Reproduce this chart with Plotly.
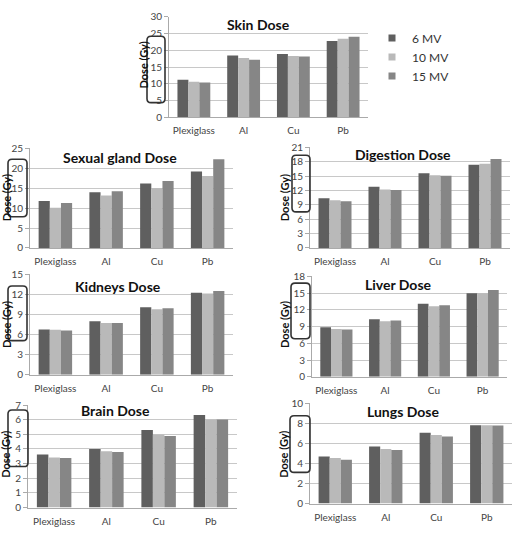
import plotly.graph_objects as go

W, H = 516, 534

categories = ["Plexiglass", "Al", "Cu", "Pb"]
series_names = ["6 MV", "10 MV", "15 MV"]
colors = ["#5f5f5f", "#b9b9b9", "#868686"]

skin = [[11.2, 18.4, 18.9, 22.8], [10.6, 17.7, 18.3, 23.4], [10.4, 17.2, 18.1, 24.0]]
sexual = [[11.8, 14.0, 16.2, 19.2], [10.1, 13.2, 15.0, 18.1], [11.3, 14.25, 16.8, 22.3]]
digestion = [[10.4, 12.8, 15.6, 17.4], [9.96, 12.2, 15.2, 17.6], [9.76, 12.1, 15.1, 18.6]]
kidneys = [[6.77, 7.98, 10.1, 12.24], [6.72, 7.74, 9.77, 12.14], [6.63, 7.74, 9.92, 12.53]]
liver = [[8.85, 10.3, 13.1, 14.97], [8.56, 9.96, 12.64, 14.97], [8.45, 10.08, 12.8, 15.55]]
brain = [[3.62, 4.0, 5.3, 6.33], [3.42, 3.85, 4.99, 6.02], [3.38, 3.8, 4.88, 6.02]]
lungs = [[4.69, 5.69, 7.04, 7.81], [4.53, 5.43, 6.82, 7.81], [4.37, 5.34, 6.69, 7.78]]

titles = ["Skin Dose", "Sexual gland Dose", "Digestion Dose", "Kidneys Dose",
          "Liver Dose", "Brain Dose", "Lungs Dose"]
datasets = [skin, sexual, digestion, kidneys, liver, brain, lungs]
ymax = [30, 25, 21, 15, 18, 7, 10]
dticks = [5, 5, 3, 3, 3, 1, 2]

panels = [
    dict(px=(169, 368), py=(113, 10), title=(258, 18), box=(147, 30, 165, 98), lab=144, lab_y=60),
    dict(px=(30, 233), py=(247, 145), title=(120, 154), box=(8, 156, 27, 215), lab=6, lab_y=196),
    dict(px=(310, 510), py=(247, 144), title=(403, 151), box=(292, 152, 310, 210), lab=284, lab_y=196),
    dict(px=(30, 233), py=(377, 274), title=(118, 286), box=(8, 286, 27, 342), lab=6, lab_y=326),
    dict(px=(312, 507), py=(379, 276), title=(398, 284), box=(291, 283, 310, 340), lab=284, lab_y=326),
    dict(px=(28, 237), py=(513, 408), title=(115, 414), box=(8, 413, 28, 471), lab=6, lab_y=459),
    dict(px=(310, 512), py=(509, 406), title=(403, 415), box=(290, 419, 310, 477), lab=284, lab_y=459),
]

def fx(px):
    return px / W

def fy(py):
    return 1 - py / H

fig = go.Figure()
layout = dict(width=W, height=H, margin=dict(l=0, r=0, t=0, b=0),
              paper_bgcolor="white", plot_bgcolor="white",
              barmode="group", bargap=0.34, bargroupgap=0,
              font=dict(family="Lato, Open Sans, sans-serif", color="#444", size=10),
              showlegend=True,
              legend=dict(x=fx(372), y=fy(17), xanchor="left", yanchor="top",
                          font=dict(size=12, color="#333"), itemwidth=30,
                          tracegroupgap=0, bgcolor="rgba(0,0,0,0)"))
shapes = []
annotations = []

for i, (data, p) in enumerate(zip(datasets, panels)):
    xa = "x" if i == 0 else f"x{i+1}"
    ya = "y" if i == 0 else f"y{i+1}"
    for s in range(3):
        fig.add_trace(go.Bar(x=categories, y=data[s], name=series_names[s],
                             marker=dict(color=colors[s], line=dict(width=0)),
                             xaxis=xa, yaxis=ya, showlegend=False))
    xk = "xaxis" if i == 0 else f"xaxis{i+1}"
    yk = "yaxis" if i == 0 else f"yaxis{i+1}"
    layout[xk] = dict(domain=[fx(p["px"][0]), fx(p["px"][1])], anchor=ya,
                      showgrid=False, showline=True, linecolor="#aaaaaa", linewidth=1,
                      ticks="", ticklabelstandoff=4,
                      tickfont=dict(size=10, color="#444"), fixedrange=True)
    layout[yk] = dict(domain=[fy(p["py"][0]), fy(p["py"][1])], anchor=xa,
                      range=[0, ymax[i]], dtick=dticks[i], tick0=0,
                      showgrid=True, gridcolor="#c8c8c8", gridwidth=1,
                      showline=True, linecolor="#aaaaaa", linewidth=1,
                      ticks="outside", ticklen=4, tickcolor="#aaaaaa",
                      zeroline=False, tickfont=dict(size=10, color="#444"), fixedrange=True)
    annotations.append(dict(text=f"<b>{titles[i]}</b>", x=fx(p["title"][0]), y=fy(p["title"][1]),
                            xref="paper", yref="paper", showarrow=False,
                            font=dict(size=14, color="#111"), xanchor="center", yanchor="middle"))
    annotations.append(dict(text="<b>Dose (Gy)</b>", x=fx(p["lab"]), y=fy(p["lab_y"]),
                            xref="paper", yref="paper", showarrow=False, textangle=-90,
                            font=dict(size=11, color="#111"), xanchor="center", yanchor="middle"))
    bx0, by0, bx1, by1 = p["box"]
    r = 4
    pts = [("M", bx0 + r, by0), ("L", bx1 - r, by0), ("Q", bx1, by0), ("", bx1, by0 + r),
           ("L", bx1, by1 - r), ("Q", bx1, by1), ("", bx1 - r, by1), ("L", bx0 + r, by1),
           ("Q", bx0, by1), ("", bx0, by1 - r), ("L", bx0, by0 + r), ("Q", bx0, by0),
           ("", bx0 + r, by0)]
    path = " ".join(f"{c} {fx(a):.5f},{fy(b):.5f}".strip() for c, a, b in pts) + " Z"
    shapes.append(dict(type="path", path=path, xref="paper", yref="paper",
                       line=dict(color="#333", width=1.6)))

# legend entries: small square markers
for s in range(3):
    fig.add_trace(go.Scatter(x=[None], y=[None], mode="markers", name=series_names[s],
                             marker=dict(symbol="square", size=7, color=colors[s]),
                             xaxis="x", yaxis="y", showlegend=True, hoverinfo="skip"))

layout["shapes"] = shapes
layout["annotations"] = annotations
fig.update_layout(**layout)
fig.write_html("out.html")
